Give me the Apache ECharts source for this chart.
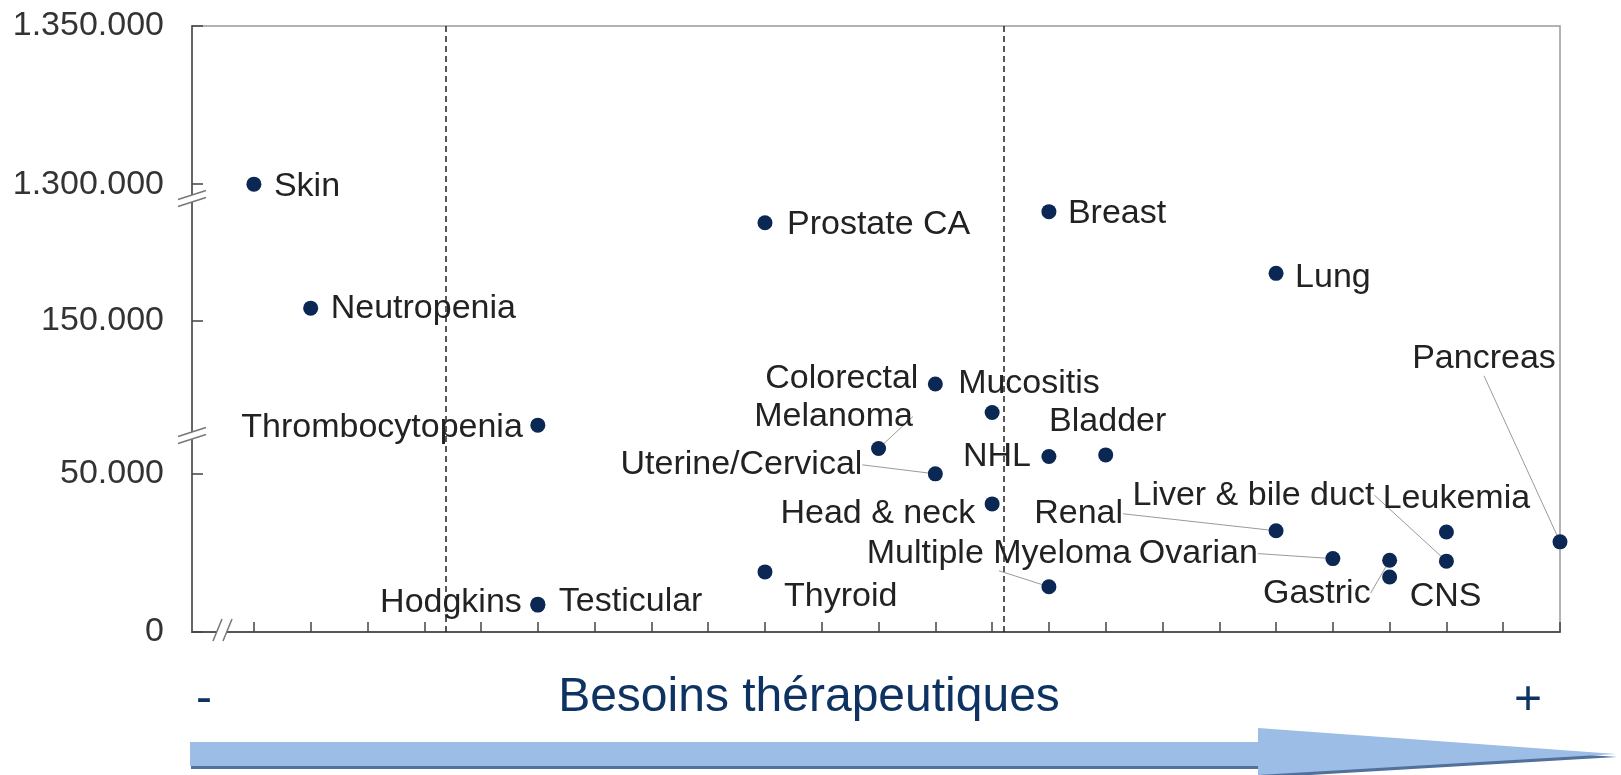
<!DOCTYPE html>
<html>
<head>
<meta charset="utf-8">
<script src="https://cdn.jsdelivr.net/npm/echarts@6/dist/echarts.min.js"></script>
<style>
html,body{margin:0;padding:0;background:#ffffff;}
#chart{width:1621px;height:775px;}
</style>
</head>
<body>
<div id="chart"></div>
<script>
// ---- data ----
const NAMES = ['Skin','Neutropenia','Thrombocytopenia','Hodgkins','Testicular','Prostate CA','Thyroid',
  'Melanoma','Colorectal','Uterine/Cervical','Mucositis','Head & neck','NHL','Breast','Multiple Myeloma',
  'Bladder','Lung','Renal','Ovarian','Gastric','CNS','Leukemia','Liver & bile duct','Pancreas'];
// position on the "therapeutic need" axis (tick index)
const NEED = [0, 1, 5, 5, 5, 9, 9, 11, 12, 12, 13, 13, 14, 14, 14, 15, 18, 18, 19, 20, 20, 21, 21, 23];
// number of patients
const PATIENTS = [1300000, 154000, 117000, 8500, 8800, 181000, 19000, 58000, 130000, 50000, 121000, 40500,
  55500, 184500, 14300, 56000, 165000, 32000, 23200, 22700, 17400, 31600, 22400, 28500];
const Y_TICKS = [0, 50000, 150000, 1300000, 1350000];
const X_TICKS = [0,1,2,3,4,5,6,7,8,9,10,11,12,13,14,15,16,17,18,19,20,21,22,23];
const Y_BREAKS = [[61500, 113100], [188000, 1294800]];
const DIVIDERS = [3.38, 13.2];
const AXIS_TITLE = 'Besoins thérapeutiques';

// ---- label placement (style only): dx, dy, align, leader line ----
const LABEL_POS = {
  'Skin': [20, 2, 'left', false],
  'Neutropenia': [20, 0, 'left', false],
  'Thrombocytopenia': [-15, 2, 'right', false],
  'Hodgkins': [-16, -2, 'right', false],
  'Testicular': [21, -3, 'left', false],
  'Prostate CA': [22, 2, 'left', false],
  'Thyroid': [19, 25, 'left', false],
  'Melanoma': [-45, -32, 'center', true],
  'Colorectal': [-17, -5, 'right', false],
  'Uterine/Cervical': [-73, -9, 'right', true],
  'Mucositis': [-34, -29, 'left', false],
  'Head & neck': [-17, 10, 'right', false],
  'NHL': [-18, 0, 'right', false],
  'Breast': [19, 2, 'left', false],
  'Multiple Myeloma': [-50, -33, 'center', true],
  'Bladder': [2, -33, 'center', false],
  'Lung': [19, 4, 'left', false],
  'Renal': [-153, -17, 'right', true],
  'Ovarian': [-75, -5, 'right', true],
  'Gastric': [-19, 33, 'right', true],
  'CNS': [20, 20, 'left', false],
  'Leukemia': [10, -33, 'center', false],
  'Liver & bile duct': [-193, -66, 'center', true],
  'Pancreas': [-76, -183, 'center', true]
};

const FONT = "'Liberation Sans', Arial, Helvetica, sans-serif";
const NAVY = '#0b2754';

function fmt(v) { return String(v).replace(/\B(?=(\d{3})+(?!\d))/g, '.'); }

const points = NAMES.map((n, i) => ({
  name: n,
  value: [NEED[i], PATIENTS[i]],
  labelLine: { show: LABEL_POS[n][3] }
}));

const chart = echarts.init(document.getElementById('chart'), null, { renderer: 'canvas' });

const option = {
  animation: false,
  backgroundColor: '#ffffff',
  grid: { left: 192, right: 61, top: 26, bottom: 143, containLabel: false,
    show: true, borderColor: '#9a9a9a', borderWidth: 1.5, backgroundColor: 'transparent' },
  xAxis: {
    type: 'value', min: -1.09, max: 23,
    axisLine: { show: true, onZero: false, lineStyle: { color: '#555', width: 2 } },
    axisTick: { show: true, inside: true, length: 10, customValues: X_TICKS, lineStyle: { color: '#444', width: 1.5 } },
    axisLabel: { show: false },
    splitLine: { show: false }
  },
  yAxis: {
    type: 'value', min: 0, max: 1350000,
    breaks: Y_BREAKS.map(b => ({ start: b[0], end: b[1], gap: 0 })),
    breakArea: { show: false },
    axisLine: { show: true, onZero: false, lineStyle: { color: '#666', width: 2 } },
    axisTick: { show: true, inside: true, length: 11, customValues: Y_TICKS, lineStyle: { color: '#444', width: 1.5 } },
    axisLabel: { show: true, customValues: Y_TICKS, formatter: fmt, margin: 28,
      fontFamily: FONT, fontSize: 34, color: '#333', showMinLabel: true, showMaxLabel: true },
    splitLine: { show: false }
  },
  series: [{
    type: 'scatter',
    data: points,
    symbol: 'circle',
    symbolSize: 15,
    itemStyle: { color: NAVY, opacity: 1 },
    label: { show: true, formatter: '{b}', fontFamily: FONT, fontSize: 34, color: '#222', opacity: 1 },
    labelLine: { show: true, lineStyle: { color: '#9a9a9a', width: 1, opacity: 1 } },
    labelLayout: function (p) {
      const cfg = LABEL_POS[NAMES[p.dataIndex]];
      const cx = p.rect.x + p.rect.width / 2;
      const cy = p.rect.y + p.rect.height / 2;
      return { x: cx + cfg[0], y: cy + cfg[1], align: cfg[2], verticalAlign: 'middle' };
    },
    emphasis: { disabled: true },
    z: 5,
    markLine: {
      silent: true, symbol: 'none', label: { show: false },
      lineStyle: { color: '#222', type: [6, 4], width: 1.5 },
      data: DIVIDERS.map(x => ({ xAxis: x }))
    }
  }]
};
chart.setOption(option);

// ---- decorations: axis break marks, arrow, axis title ----
const graphics = [];
function breakMark(cx, cy, vertical) {
  let a1, a2, b1, b2;
  if (!vertical) { // on y axis
    a1 = [cx - 14, cy - 1]; a2 = [cx + 14, cy - 10];
    b1 = [cx - 14, cy + 6]; b2 = [cx + 14, cy - 3];
  } else { // on x axis
    a1 = [cx - 9, cy + 9]; a2 = [cx, cy - 13];
    b1 = [cx + 1, cy + 9]; b2 = [cx + 10, cy - 13];
  }
  graphics.push({ type: 'polygon', z: 100, shape: { points: [a1, a2, b2, b1] }, style: { fill: '#ffffff' } });
  graphics.push({ type: 'line', z: 101, shape: { x1: a1[0], y1: a1[1], x2: a2[0], y2: a2[1] }, style: { stroke: '#777', lineWidth: 1.5 } });
  graphics.push({ type: 'line', z: 101, shape: { x1: b1[0], y1: b1[1], x2: b2[0], y2: b2[1] }, style: { stroke: '#777', lineWidth: 1.5 } });
}
const axisX = chart.convertToPixel({ xAxisIndex: 0 }, -1.09);
const axisY = chart.convertToPixel({ yAxisIndex: 0 }, 0);
Y_BREAKS.forEach(b => {
  const y1 = chart.convertToPixel({ yAxisIndex: 0 }, b[0]);
  const y2 = chart.convertToPixel({ yAxisIndex: 0 }, b[1]);
  breakMark(axisX, (y1 + y2) / 2, false);
});
breakMark(axisX + 30, axisY, true);

// arrow
const arrowPts = [[190, 742], [1258, 742], [1258, 728], [1616, 754], [1258, 775], [1258, 766], [190, 766]];
graphics.push({ type: 'polygon', z: 50, shape: { points: arrowPts.map(p => [p[0] + 1, p[1] + 3]) }, style: { fill: '#51709c' } });
graphics.push({ type: 'polygon', z: 51, shape: { points: arrowPts }, style: { fill: '#9cbde6' } });
graphics.push({ type: 'text', z: 60, x: 809, y: 698, style: { text: AXIS_TITLE, font: '48px ' + FONT, fill: '#0e3262', align: 'center', verticalAlign: 'middle' } });
graphics.push({ type: 'text', z: 60, x: 204, y: 700, style: { text: '-', font: '48px ' + FONT, fill: '#0e3262', align: 'center', verticalAlign: 'middle' } });
graphics.push({ type: 'text', z: 60, x: 1528, y: 701, style: { text: '+', font: '48px ' + FONT, fill: '#0e3262', align: 'center', verticalAlign: 'middle' } });

chart.setOption({ graphic: graphics });
</script>
</body>
</html>
